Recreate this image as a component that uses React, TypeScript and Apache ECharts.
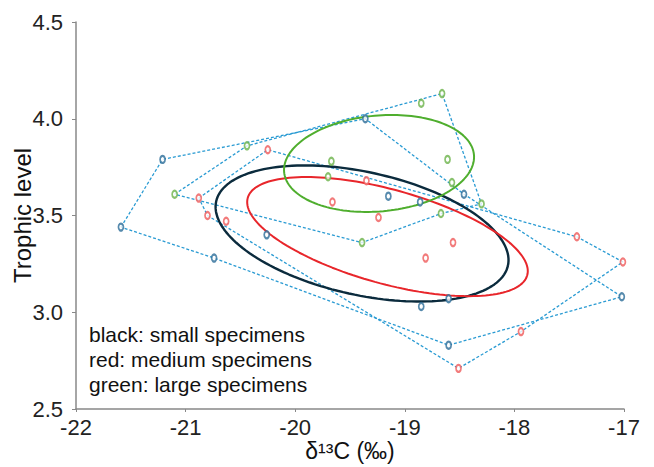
import React, { useEffect, useRef } from "react";
import * as echarts from "echarts";

// Points: [δ13C, trophic level]
const smallPoints: [number, number][] = [
  [-21.59, 3.44], [-21.21, 3.79], [-20.74, 3.28], [-20.26, 3.40],
  [-19.36, 4.00], [-19.15, 3.60], [-18.86, 3.57], [-18.85, 3.03],
  [-18.60, 3.07], [-18.46, 3.61], [-18.60, 2.83], [-17.02, 3.08],
];
const mediumPoints: [number, number][] = [
  [-20.88, 3.59], [-20.80, 3.50], [-20.63, 3.47], [-20.25, 3.84],
  [-19.66, 3.57], [-19.35, 3.68], [-19.24, 3.49], [-18.81, 3.28],
  [-18.56, 3.36], [-17.43, 3.39], [-17.01, 3.26], [-17.94, 2.90],
  [-18.51, 2.71],
];
const largePoints: [number, number][] = [
  [-21.10, 3.61], [-20.44, 3.86], [-19.70, 3.70], [-19.67, 3.78],
  [-19.39, 3.36], [-18.85, 4.08], [-18.66, 4.13], [-18.67, 3.51],
  [-18.61, 3.79], [-18.57, 3.67], [-18.30, 3.56],
];

// Convex hull outlines (indices into the point lists, closed)
const smallHull = [0, 1, 4, 9, 11, 10, 2, 0];
const mediumHull = [0, 3, 9, 10, 11, 12, 1, 0];
const largeHull = [0, 1, 6, 10, 7, 4, 0];

// Ellipses: centre, major-axis vector, minor-axis vector (data units)
const smallEllipse = { c: [-19.39, 3.407], u: [1.331, -0.166], v: [-0.12, -0.31] };
const mediumEllipse = { c: [-19.158, 3.391], u: [1.275, -0.2], v: [-0.1146, -0.234] };
const largeEllipse = { c: [-19.235, 3.769], u: [0.866, 0.0447], v: [0.0396, -0.2465] };

const legendLines = ["black: small specimens", "red: medium specimens", "green: large specimens"];

const FONT = "'Liberation Sans', Arial, Helvetica, sans-serif";
const HULL_COLOR = "#2a9bd3";

function ellipsePts(e: { c: number[]; u: number[]; v: number[] }) {
  const pts: number[][] = [];
  const n = 160;
  for (let i = 0; i <= n; i++) {
    const t = (i / n) * Math.PI * 2;
    const ct = Math.cos(t);
    const st = Math.sin(t);
    pts.push([e.c[0] + e.u[0] * ct + e.v[0] * st, e.c[1] + e.u[1] * ct + e.v[1] * st]);
  }
  return pts;
}

function hullPts(points: [number, number][], hull: number[]) {
  return hull.map((i) => points[i]);
}

export default function App() {
  const ref = useRef<HTMLDivElement>(null);
  useEffect(() => {
    if (!ref.current) return;
    const chart = echarts.init(ref.current, undefined, { renderer: "svg" });
    const hullSeries = (pts: [number, number][], hull: number[]) => ({
      type: "line",
      data: hullPts(pts, hull),
      showSymbol: false,
      silent: true,
      z: 1,
      lineStyle: { color: HULL_COLOR, width: 1.3, type: [3, 2] },
    });
    const ellSeries = (e: any, color: string, width: number) => ({
      type: "line",
      data: ellipsePts(e),
      showSymbol: false,
      smooth: false,
      silent: true,
      z: 2,
      lineStyle: { color, width },
    });
    const ptSeries = (pts: [number, number][], color: string) => ({
      type: "scatter",
      data: pts,
      symbol: "emptyCircle",
      symbolSize: [5, 7],
      z: 3,
      itemStyle: { color, borderColor: color, borderWidth: 1 },
    });
    chart.setOption({
      animation: false,
      backgroundColor: "#ffffff",
      grid: {
        left: 76,
        right: 30,
        top: 22,
        bottom: 58,
        containLabel: false,
        outerBoundsMode: "none",
      },
      xAxis: {
        type: "value",
        min: -22,
        max: -17,
        interval: 1,
        name: "δ¹³C (‰)",
        nameLocation: "middle",
        nameGap: 30,
        nameMoveOverlap: false,
        nameTextStyle: { fontSize: 23, color: "#111", fontFamily: FONT },
        axisLine: { show: true, onZero: false, lineStyle: { color: "#888", width: 1.5 } },
        axisTick: { show: true, length: 3, lineStyle: { color: "#888" } },
        splitLine: { show: false },
        axisLabel: { fontSize: 22, color: "#222", fontFamily: FONT, margin: 7 },
      },
      yAxis: {
        type: "value",
        min: 2.5,
        max: 4.5,
        interval: 0.5,
        name: "Trophic level",
        nameLocation: "middle",
        nameGap: 42,
        nameMoveOverlap: false,
        nameTextStyle: { fontSize: 24, color: "#111", fontFamily: FONT },
        axisLine: { show: true, onZero: false, lineStyle: { color: "#888", width: 1.5 } },
        axisTick: { show: true, length: 4, lineStyle: { color: "#888" } },
        splitLine: { show: false },
        axisLabel: {
          fontSize: 22,
          color: "#222",
          fontFamily: FONT,
          margin: 13,
          formatter: (v: number) => v.toFixed(1),
        },
      },
      graphic: [
        {
          type: "text",
          left: 89,
          top: 322,
          style: {
            text: legendLines.join("\n"),
            fontSize: 21,
            lineHeight: 25,
            fontFamily: FONT,
            fill: "#111",
          },
        },
      ],
      series: [
        hullSeries(smallPoints, smallHull),
        hullSeries(mediumPoints, mediumHull),
        hullSeries(largePoints, largeHull),
        ellSeries(smallEllipse, "#0b2b3d", 2.4),
        ellSeries(mediumEllipse, "#e8262b", 2),
        ellSeries(largeEllipse, "#4fae2e", 2),
        ptSeries(smallPoints, "#2c6d99"),
        ptSeries(mediumPoints, "#ef5a5a"),
        ptSeries(largePoints, "#6cb34a"),
      ],
    });
    return () => chart.dispose();
  }, []);
  return <div ref={ref} style={{ width: 654, height: 467, position: "absolute", left: 0, top: 0 }} />;
}
